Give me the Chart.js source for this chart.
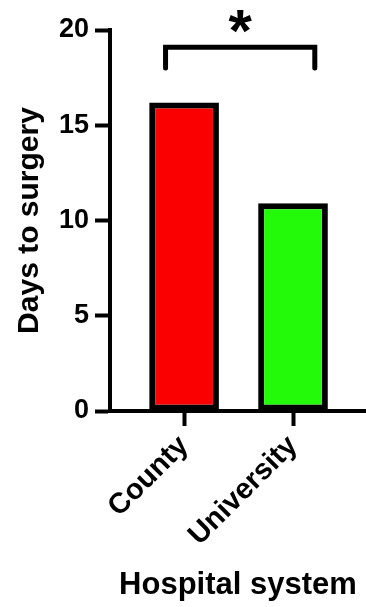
<!DOCTYPE html>
<html>
<head>
<meta charset="utf-8">
<script src="https://cdn.jsdelivr.net/npm/chart.js@4/dist/chart.umd.min.js"></script>
<style>
  html, body { margin: 0; padding: 0; background: #fff; }
  #wrap { width: 366px; height: 607px; }
</style>
</head>
<body>
<div id="wrap"><canvas id="barChart"></canvas></div>
<script>
// Days to surgery by hospital system
const categories = ['County', 'University'];
const daysToSurgery = [16.2, 10.9];
const barColors = ['rgb(250, 0, 0)', 'rgb(34, 250, 10)'];
const yTicks = [0, 5, 10, 15, 20];

// significance bracket between the two bars
const sigBracket = { from: -0.17, to: 1.2, y: 19.1, legTo: 18.0, label: '*' };

const FONT = 'Arial, "Liberation Sans", Helvetica, sans-serif';

const bracketPlugin = {
  id: 'bracket',
  afterDraw(chart) {
    const { ctx, scales: { x, y } } = chart;
    const x1 = x.getPixelForValue(sigBracket.from);
    const x2 = x.getPixelForValue(sigBracket.to);
    const yTop = y.getPixelForValue(sigBracket.y);
    const yLeg = y.getPixelForValue(sigBracket.legTo);
    ctx.save();
    ctx.strokeStyle = '#000';
    ctx.lineWidth = 5;
    ctx.lineCap = 'round';
    ctx.beginPath();
    ctx.moveTo(x1, yLeg);
    ctx.lineTo(x1, yTop);
    ctx.lineTo(x2, yTop);
    ctx.lineTo(x2, yLeg);
    ctx.stroke();

    // asterisk centred above the bracket
    ctx.fillStyle = '#000';
    ctx.font = 'bold 60px ' + FONT;
    ctx.textAlign = 'center';
    ctx.textBaseline = 'alphabetic';
    const m = ctx.measureText(sigBracket.label);
    const cy = yTop - 26;
    const base = cy + (m.actualBoundingBoxAscent - m.actualBoundingBoxDescent) / 2;
    ctx.fillText(sigBracket.label, (x1 + x2) / 2, base);
    ctx.restore();
  }
};

new Chart(document.getElementById('barChart'), {
  type: 'bar',
  data: {
    datasets: [{
      data: daysToSurgery.map((v, i) => ({ x: i, y: v })),
      backgroundColor: barColors,
      borderColor: '#000',
      borderWidth: 6,
      borderSkipped: false,
      barPercentage: 0.64,
      categoryPercentage: 1
    }]
  },
  options: {
    responsive: true,
    maintainAspectRatio: false,
    animation: false,
    layout: { padding: { top: 30, right: 0, bottom: 0, left: 0 } },
    plugins: {
      legend: { display: false },
      tooltip: { enabled: false }
    },
    scales: {
      x: {
        type: 'linear',
        offset: false,
        min: -0.68,
        max: 1.67,
        afterFit(scale) { scale.height = 196; },
        border: { display: true, color: '#000', width: 4 },
        grid: {
          offset: false,
          drawOnChartArea: false,
          drawTicks: true,
          tickLength: 15,
          tickWidth: 4,
          tickColor: '#000'
        },
        ticks: {
          stepSize: 1,
          includeBounds: false,
          autoSkip: false,
          minRotation: 45,
          maxRotation: 45,
          padding: 3,
          color: '#000',
          font: { family: FONT, size: 29, weight: 'bold' },
          callback: (v) => categories[v] !== undefined ? categories[v] : ''
        },
        title: {
          display: true,
          text: 'Hospital system',
          color: '#000',
          font: { family: FONT, size: 31, weight: 'bold' },
          padding: { top: 0, bottom: 3 }
        }
      },
      y: {
        min: 0,
        max: 20,
        afterFit(scale) { scale.width = 110; },
        afterBuildTicks(scale) { scale.ticks = yTicks.map(v => ({ value: v })); },
        border: { display: true, color: '#000', width: 4 },
        grid: {
          drawOnChartArea: false,
          drawTicks: true,
          tickLength: 15,
          tickWidth: 4,
          tickColor: '#000'
        },
        ticks: {
          padding: 6,
          color: '#000',
          font: { family: FONT, size: 27, weight: 'bold' }
        },
        title: {
          display: true,
          text: 'Days to surgery',
          color: '#000',
          font: { family: FONT, size: 30, weight: 'bold' },
          padding: { top: 12, bottom: 0 }
        }
      }
    }
  },
  plugins: [bracketPlugin]
});
</script>
</body>
</html>
